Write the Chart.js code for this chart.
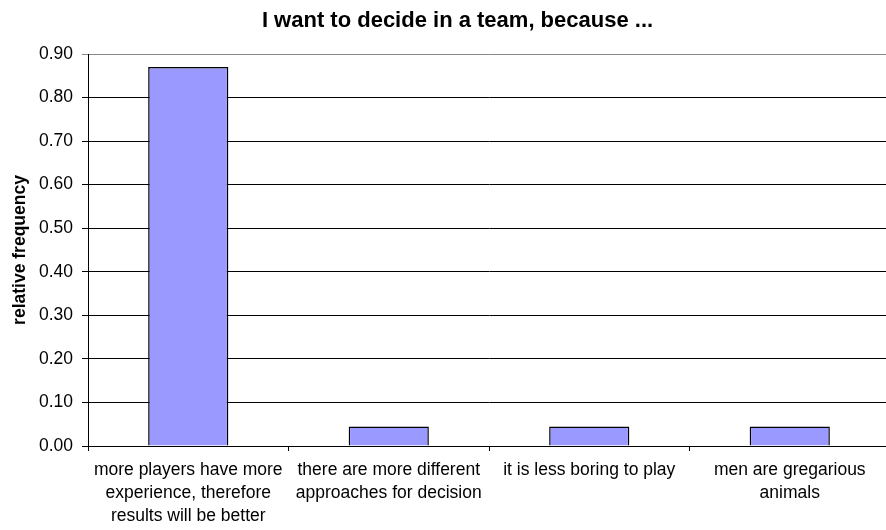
<!DOCTYPE html>
<html>
<head>
<meta charset="utf-8">
<script src="https://cdn.jsdelivr.net/npm/chart.js@4"></script>
<style>
  html, body { margin: 0; padding: 0; background: #fff; overflow: hidden; }
  #wrap { width: 892px; height: 530px; }
</style>
</head>
<body>
<div id="wrap"><canvas id="barChart"></canvas></div>
<script>
// data
const titleText = 'I want to decide in a team, because ...';
const axisTitle = 'relative frequency';
const categories = [
	['more players have more', 'experience, therefore', 'results will be better'],
	['there are more different', 'approaches for decision'],
	['it is less boring to play'],
	['men are gregarious', 'animals']
];
const frequencies = [0.87, 0.045, 0.045, 0.045];
const yMin = 0;
const yMax = 0.9;
const yStep = 0.1;

const fontFamily = '"Liberation Sans", Arial, sans-serif';

// title is centred over the chart like the original, not over the canvas
const titlePlugin = {
	id: 'topTitle',
	afterDraw(chart) {
		const ctx = chart.ctx;
		ctx.save();
		ctx.font = 'bold 22px ' + fontFamily;
		ctx.fillStyle = '#000';
		ctx.textAlign = 'center';
		ctx.textBaseline = 'alphabetic';
		ctx.fillText(titleText, 457.5, 27);
		ctx.restore();
	}
};

const ctx = document.getElementById('barChart').getContext('2d');
const myChart = new Chart(ctx, {
	type: 'bar',
	data: {
		labels: categories,
		datasets: [{
			data: frequencies,
			backgroundColor: '#9999FF',
			borderColor: '#000',
			borderWidth: 1.5,
			barPercentage: 0.4,
			categoryPercentage: 1.0
		}]
	},
	plugins: [titlePlugin],
	options: {
		responsive: true,
		maintainAspectRatio: false,
		animation: false,
		layout: {
			padding: { top: 54, right: 2, bottom: 0, left: 0 }
		},
		plugins: {
			legend: { display: false },
			tooltip: { enabled: false }
		},
		scales: {
			x: {
				grid: {
					display: true,
					drawOnChartArea: false,
					drawTicks: true,
					tickLength: 5,
					color: '#000',
					offset: true
				},
				border: { color: '#000', width: 1 },
				ticks: {
					color: '#000',
					font: { family: fontFamily, size: 17.5, lineHeight: 1.31 },
					padding: 8,
					maxRotation: 0,
					minRotation: 0,
					autoSkip: false
				},
				afterFit(scale) {
					scale.height = 84;
				}
			},
			y: {
				min: yMin,
				max: yMax,
				grid: {
					color: (c) => (c.tick && c.tick.value >= yMax - 1e-9) ? '#888' : '#000',
					tickLength: 6,
					drawTicks: true
				},
				border: { color: '#000', width: 1 },
				ticks: {
					stepSize: yStep,
					color: '#000',
					padding: 9,
					font: { family: fontFamily, size: 17.5 },
					callback: (v) => v.toFixed(2)
				},
				title: {
					display: true,
					text: axisTitle,
					color: '#000',
					font: { family: fontFamily, size: 17.5, weight: 'bold' },
					padding: { top: 10, bottom: 0 }
				},
				afterFit(scale) {
					scale.width = 88;
				}
			}
		}
	}
});
</script>
</body>
</html>
